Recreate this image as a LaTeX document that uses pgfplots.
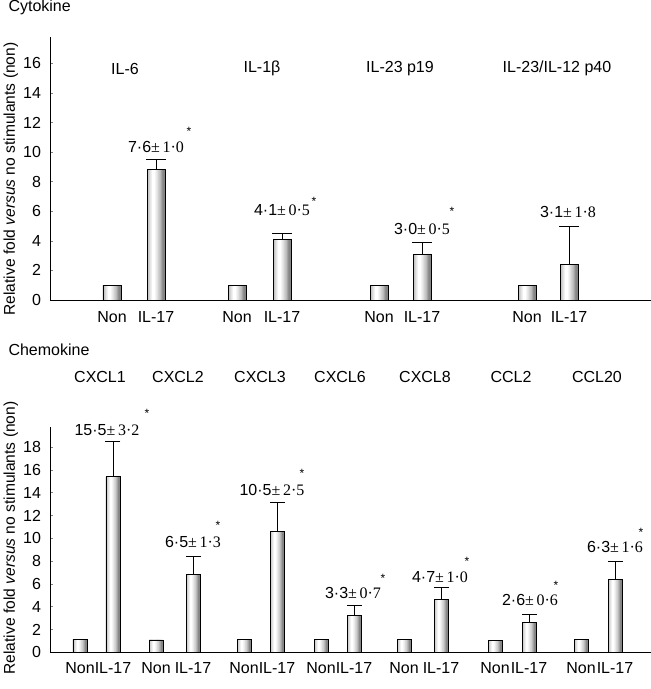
\documentclass[border=0pt]{standalone}
\usepackage{fontspec}
\setmainfont{Liberation Sans}
\newfontfamily\serif{Liberation Serif}
\usepackage{pgfplots}
\usepackage{pgfplotstable}
\pgfplotsset{compat=1.18}

\pgfplotstableread{
x y
112 1.0
237 1.0
379 1.0
527 1.0
}\topnon
\pgfplotstableread{
x y e
156 8.8 0.67
282 4.1 0.42
422 3.05 0.85
569 2.4 2.56
}\topil
\pgfplotstableread{
x y
80 1.14
156 1.08
244 1.14
321 1.10
404 1.14
495 1.02
581 1.14
}\botnon
\pgfplotstableread{
x y e
113 15.4 3.07
193 6.85 1.55
277 10.6 2.52
354 3.27 0.80
441 4.65 1.05
529 2.63 0.73
615 6.35 1.65
}\botil

\pgfplotsset{
  mybars/.style={
    scale only axis, clip=false,
    axis x line=bottom, axis y line=left, axis line style={-, line width=0.9pt},
    tick align=inside, major tick length=3pt,
    x tick style={draw=none},
    y tick style={line width=0.6pt},
    /pgf/number format/assume math mode=true,
    yticklabel style={xshift=-3.5pt},
    xmin=50, xmax=651, ymin=0,
  },
  lay/.style n args={3}{ybar, bar width=#1*\bw pt, bar shift=#2*\bw pt, fill=#3, draw=none, forget plot},
}
\newcommand\shadedbars[1]{%
  \addplot[lay={1}{0}{black!48}] table[x=x,y=y] {#1};
  \addplot[lay={0.86}{-0.07}{black!36}] table[x=x,y=y] {#1};
  \addplot[lay={0.74}{-0.09}{black!27}] table[x=x,y=y] {#1};
  \addplot[lay={0.62}{-0.11}{black!19}] table[x=x,y=y] {#1};
  \addplot[lay={0.48}{-0.12}{black!12}] table[x=x,y=y] {#1};
  \addplot[lay={0.34}{-0.13}{black!6}] table[x=x,y=y] {#1};
  \addplot[lay={0.18}{-0.13}{white}] table[x=x,y=y] {#1};
}
\newcommand\sigstar[1]{\node[font=\fontsize{12}{14}\selectfont] at (#1) {*};}

\begin{document}
\fontsize{16}{19}\selectfont
\begin{tikzpicture}[x=1pt,y=1pt]
\path[use as bounding box] (0pt,0pt) rectangle (651pt,689pt);
\node[anchor=base west] at (3pt,677pt) {Cytokine};
\node[anchor=base west] at (3pt,333pt) {Chemokine};
\node[rotate=90, anchor=base, font=\fontsize{15.6}{18}\selectfont] at (15pt,510pt) {Relative fold \textit{versus} no stimulants (non)};
\node[rotate=90, anchor=base, font=\fontsize{15.6}{18}\selectfont] at (15pt,151pt) {Relative fold \textit{versus} no stimulants (non)};

\def\bw{18}
\begin{axis}[mybars,
  at={(50pt,389pt)}, anchor=south west, width=601pt, height=263pt,
  ymax=17.78, ytick={0,2,...,16},
  xtick={112,156,237,282,379,422,527,569},
  xticklabels={Non,IL-17,Non,IL-17,Non,IL-17,Non,IL-17},
  xticklabel style={yshift=-6pt},
]
\shadedbars{\topnon}
\shadedbars{\topil}
\addplot[ybar, bar width=18pt, bar shift=0pt, fill=none, draw=black, line width=0.9pt] table[x=x,y=y] {\topnon};
\addplot[ybar, bar width=18pt, bar shift=0pt, fill=none, draw=black, line width=0.9pt,
  error bars/.cd, y dir=plus, y explicit, error mark=none,
  error bar style={line width=0.9pt, black}]
  table[x=x,y=y,y error=e] {\topil};
\addplot[only marks, mark=-, mark size=10pt, mark options={line width=0.9pt, draw=black}]
  table[x=x, y expr=\thisrow{y}+\thisrow{e}] {\topil};
\node at (axis cs:125,15.64) {IL-6};
\node at (axis cs:262,15.64) {IL-1β};
\node at (axis cs:400,15.64) {IL-23 p19};
\node at (axis cs:557,15.64) {IL-23/IL-12 p40};
\node at (axis cs:156,10.34) {7·6{\serif±\,1·0}};
\sigstar{axis cs:189,11.43}
\node at (axis cs:282,6.09) {4·1{\serif±\,0·5}};
\sigstar{axis cs:314,6.69}
\node at (axis cs:422,4.80) {3·0{\serif±\,0·5}};
\sigstar{axis cs:452,6.02}
\node at (axis cs:568,5.95) {3·1{\serif±\,1·8}};
\end{axis}

\def\bw{14}
\begin{axis}[mybars,
  at={(50pt,36.7pt)}, anchor=south west, width=601pt, height=225.6pt,
  ymax=19.8, ytick={0,2,...,18},
  xtick={80,113,156,193,244,277,321,354,404,441,495,529,581,615},
  xticklabels={Non,IL-17,Non,IL-17,Non,IL-17,Non,IL-17,Non,IL-17,Non,IL-17,Non,IL-17},
  xticklabel style={yshift=-4.5pt},
]
\shadedbars{\botnon}
\shadedbars{\botil}
\addplot[ybar, bar width=14pt, bar shift=0pt, fill=none, draw=black, line width=0.9pt] table[x=x,y=y] {\botnon};
\addplot[ybar, bar width=14pt, bar shift=0pt, fill=none, draw=black, line width=0.9pt,
  error bars/.cd, y dir=plus, y explicit, error mark=none,
  error bar style={line width=0.9pt, black}]
  table[x=x,y=y,y error=e] {\botil};
\addplot[only marks, mark=-, mark size=7.5pt, mark options={line width=0.9pt, draw=black}]
  table[x=x, y expr=\thisrow{y}+\thisrow{e}] {\botil};
\node at (axis cs:100,24.17) {CXCL1};
\node at (axis cs:178,24.17) {CXCL2};
\node at (axis cs:260,24.17) {CXCL3};
\node at (axis cs:340,24.17) {CXCL6};
\node at (axis cs:425,24.17) {CXCL8};
\node at (axis cs:511,24.17) {CCL2};
\node at (axis cs:597,24.17) {CCL20};
\node at (axis cs:107,19.52) {15·5{\serif±\,3·2}};
\sigstar{axis cs:147,21.0}
\node at (axis cs:193,9.68) {6·5{\serif±\,1·3}};
\sigstar{axis cs:218,11.18}
\node at (axis cs:272,14.25) {10·5{\serif±\,2·5}};
\sigstar{axis cs:302,15.74}
\node at (axis cs:353,5.21) {3·3{\serif±\,0·7}};
\sigstar{axis cs:383,6.52}
\node at (axis cs:440,6.61) {4·7{\serif±\,1·0}};
\sigstar{axis cs:467,8.02}
\node at (axis cs:530,4.59) {2·6{\serif±\,0·6}};
\sigstar{axis cs:556,5.91}
\node at (axis cs:615,9.24) {6·3{\serif±\,1·6}};
\sigstar{axis cs:641,10.56}
\end{axis}
\end{tikzpicture}
\end{document}
